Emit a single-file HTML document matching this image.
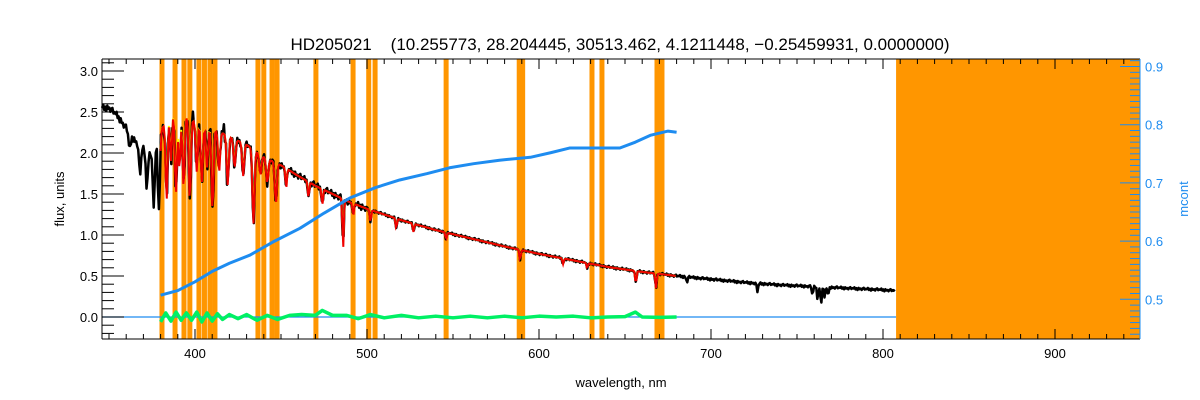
<!DOCTYPE html>
<html><head><meta charset="utf-8"><style>
html,body{margin:0;padding:0;background:#fff;}
svg{display:block;font-family:"Liberation Sans","DejaVu Sans",sans-serif;}
</style></head><body>
<svg id="chart" width="1200" height="400" viewBox="0 0 1200 400">
<text x="620" y="50" font-size="17" text-anchor="middle" fill="#000" style="white-space:pre" xml:space="preserve">HD205021    (10.255773, 28.204445, 30513.462, 4.1211448, −0.25459931, 0.0000000)</text>
<g id="bands"></g>
<g id="marks"></g>
<g id="axes"></g>
<text x="621" y="387" font-size="13" text-anchor="middle">wavelength, nm</text>
<text transform="translate(64,199) rotate(-90)" font-size="13" text-anchor="middle">flux, units</text>
<text transform="translate(1188,199) rotate(-90)" font-size="13" text-anchor="middle" fill="#1e8cf0">mcont</text>
</svg>
<script>
// ---- data ----
const bandCenters=[380.8,388.4,393.6,397,402.3,405.5,408.7,411.6,436.6,440,444.8,447.7,470.3,491.9,501,504.7,546,588.5,590.5,630.8,636.6,668.6,671.5];
const maskStart=807.6;
const fluxWave=[346,350,355,360,365,370,375,380,385,390,395,400,410,420,430,440,450,460,470,480,490,500,520,540,560,580,600,620,640,660,680,700,720,740,760,780,800,807];
const fluxVals=[2.55,2.55,2.45,2.3,2.15,2.05,2.0,2.25,2.5,2.52,2.45,2.38,2.3,2.2,2.1,1.95,1.85,1.72,1.6,1.5,1.4,1.32,1.18,1.06,0.96,0.86,0.77,0.69,0.61,0.55,0.5,0.46,0.42,0.39,0.37,0.35,0.33,0.32];
const lineWave=[362,368,372,376,379,383.5,386,388.9,391,393.4,397,401,404,407,410.2,414,419,423,428,434,438,442,447,453,466,474,486.1,492,502,517,527,546,589,614,628,656.3,668,686,727,759,762,764,766,768];
const lineDepth=[0.2,0.35,0.45,0.7,0.9,1.0,0.6,1.0,0.7,0.9,1.0,0.6,0.7,0.5,1.0,0.5,0.6,0.35,0.4,0.9,0.25,0.3,0.5,0.25,0.2,0.2,0.6,0.15,0.15,0.12,0.1,0.08,0.12,0.07,0.06,0.15,0.18,0.06,0.1,0.1,0.15,0.2,0.12,0.1];
const mcWave=[380,390,400,410,420,432,445,461,475,490,505,519,535,548,562,577,595,607,618,632,647,656,665,675,680];
const mcVals=[0.507,0.515,0.53,0.548,0.562,0.576,0.598,0.622,0.648,0.674,0.692,0.705,0.716,0.726,0.733,0.739,0.744,0.752,0.760,0.760,0.760,0.770,0.782,0.789,0.787];
const resWave=[380,383,386,389,392,395,398,401,404,407,410,413,416,420,425,430,436,442,448,455,462,470,474,480,488,495,502,510,520,530,540,550,560,570,580,590,600,610,620,630,640,650,656,660,670,680];
const resVals=[-0.06,0.05,-0.05,0.06,-0.04,0.05,-0.04,0.06,-0.06,0.05,-0.05,0.04,-0.03,0.03,-0.02,0.03,-0.04,0.02,-0.03,0.02,0.03,0.02,0.08,0.02,0.02,-0.02,0.03,-0.01,0.02,-0.01,0.01,-0.01,0.01,-0.01,0.01,-0.01,0.01,0.0,0.01,-0.01,0.0,0.005,0.06,0.0,-0.005,0.0];
const xTicks=[400,500,600,700,800,900];
const yTicks=[0.0,0.5,1.0,1.5,2.0,2.5,3.0];
const rTicks=[0.5,0.6,0.7,0.8,0.9];
// ---- scales ----
const L=102,R=1140,T=59,B=339;
const X=w=>195+(w-400)*1.72;
const Y=f=>317-f*82;
const YR=m=>66.5+(0.9-m)*582;
const NS="http://www.w3.org/2000/svg";
function mk(tag,attrs,parent){const e=document.createElementNS(NS,tag);for(const k in attrs)e.setAttribute(k,attrs[k]);parent.appendChild(e);return e;}
const bands=document.getElementById('bands'),marks=document.getElementById('marks'),axes=document.getElementById('axes');
bandCenters.forEach(c=>{const r=mk('rect',{x:X(c)-2.5,y:T,width:5,height:B-T,fill:'#ff9600'},bands);

});
const mr=mk('rect',{x:X(maskStart),y:T,width:R-X(maskStart),height:B-T,fill:'#ff9600'},bands);


function cont(w){for(let i=0;i<fluxWave.length-1;i++){if(w<=fluxWave[i+1]){const t=(w-fluxWave[i])/(fluxWave[i+1]-fluxWave[i]);return fluxVals[i]+t*(fluxVals[i+1]-fluxVals[i]);}}return fluxVals[fluxVals.length-1];}
function spec(w,scale){let f=cont(w);lineWave.forEach((c,i)=>{const s=c<450?1.2:0.8;f-=lineDepth[i]*scale*Math.exp(-((w-c)*(w-c))/(2*s*s*0.25));});return f;}
const jagPattern=[0,1,-0.6,0.4,-1,0.7,-0.3,0.2,-0.8,0.5,1,-0.4,0.3];
function specPath(w0,w1,scale,jag){let d='';let k=0;for(let w=w0;w<=w1;w+=0.6){let f=spec(w,scale);if(jag){const amp=w<380?0.04:(w<420?0.12:(w<500?0.04:0.015));f+=jagPattern[k%jagPattern.length]*amp;}d+=(d?'L':'M')+X(w).toFixed(1)+','+Y(f).toFixed(1);k++;}return d;}
const zl=mk('line',{x1:L,x2:X(maskStart),y1:Y(0),y2:Y(0),stroke:'#1e8cf0','stroke-width':1.2},marks);


let rd='';resWave.forEach((w,i)=>{rd+=(i?'L':'M')+X(w)+','+Y(resVals[i]);});
const rp=mk('path',{d:rd,fill:'none',stroke:'#00f064','stroke-width':3.5,'stroke-linejoin':'round'},marks);


const bp=mk('path',{d:specPath(346,807,1,true),fill:'none',stroke:'#000','stroke-width':2.5,'stroke-linejoin':'round'},marks);


const yp=mk('path',{d:specPath(380,680,0.9,false),fill:'none',stroke:'#ffff00','stroke-width':2},marks);


const rp2=mk('path',{d:specPath(380,680,1,false),fill:'none',stroke:'#f00000','stroke-width':2},marks);


let md='';mcWave.forEach((w,i)=>{md+=(i?'L':'M')+X(w)+','+YR(mcVals[i]);});
const mp=mk('path',{d:md,fill:'none',stroke:'#1e8cf0','stroke-width':3,'stroke-linejoin':'round'},marks);


mk('line',{x1:L,x2:R,y1:B,y2:B,stroke:'#000'},axes);
mk('line',{x1:L,x2:R,y1:T,y2:T,stroke:'#000'},axes);
mk('line',{x1:L,x2:L,y1:T,y2:B,stroke:'#000'},axes);
mk('line',{x1:R,x2:R,y1:T,y2:B,stroke:'#1e8cf0'},axes);
for(let w=350;w<=940;w+=10){const x=X(w);const maj=w%100===0;const len=maj?10:5;
mk('line',{x1:x,x2:x,y1:B,y2:B-len,stroke:'#000'},axes);mk('line',{x1:x,x2:x,y1:T,y2:T+len,stroke:'#000'},axes);}
xTicks.forEach(w=>{const t=mk('text',{x:X(w),y:B+19,'font-size':13,'text-anchor':'middle'},axes);t.textContent=w;

});
for(let i=-2;i<=31;i++){const f=i/10;const y=Y(f);if(y<T||y>B)continue;const len=i%5===0?22:12;mk('line',{x1:L,x2:L+len,y1:y,y2:y,stroke:'#000'},axes);}
yTicks.forEach(f=>{const t=mk('text',{x:L-4,y:Y(f)+5,'font-size':13,'text-anchor':'end'},axes);t.textContent=f.toFixed(1);

});
for(let i=43;i<=91;i++){const m=i/100;const y=YR(m);if(y<T||y>B)continue;const len=i%10===0?20:10;mk('line',{x1:R-len,x2:R,y1:y,y2:y,stroke:'#1e8cf0'},axes);}
rTicks.forEach(m=>{const t=mk('text',{x:R+5,y:YR(m)+5,'font-size':13,fill:'#1e8cf0'},axes);t.textContent=m.toFixed(1);

});
</script>
</body></html>
